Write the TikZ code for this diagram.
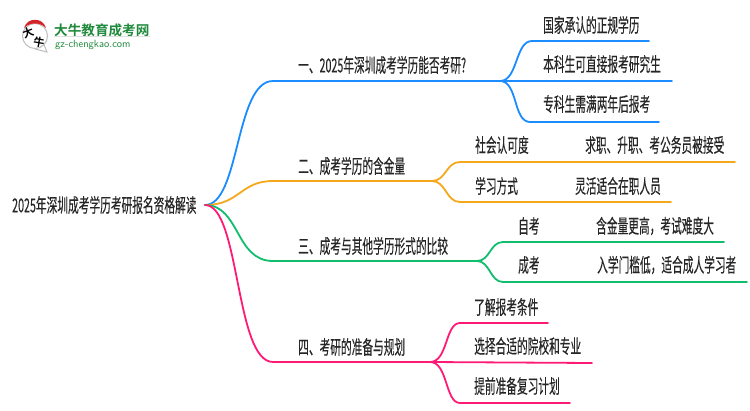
\documentclass[tikz,border=0pt]{standalone}
\usepackage{fontspec}
\usepackage{xcolor}
\newfontfamily\cjk[FakeBold=0.3]{Noto Sans CJK SC}
\newfontfamily\logofont{Noto Sans CJK SC Bold}
\definecolor{blueline}{HTML}{1A8CFF}
\definecolor{orangeline}{HTML}{F5A81C}
\definecolor{greenline}{HTML}{10BE6E}
\definecolor{pinkline}{HTML}{FF1A75}
\definecolor{logogreen}{HTML}{1F8A3C}
\definecolor{logored}{HTML}{D5232A}
\tikzset{
  lbl/.style={anchor=west, inner sep=0pt, text=black!85, yscale=1.8, transform shape, font=\cjk\fontsize{10.7}{11}\selectfont},
  branch/.style={line width=1.8pt, line cap=round},
}

\begin{document}
\begin{tikzpicture}[x=1pt, y=-1pt]
\useasboundingbox[fill=white] (0,0) rectangle (750,410);

% logo
\node[circle, draw=black!25, fill=white, line width=1pt, minimum size=25pt, inner sep=0pt] (bubble) at (35,36) {};
\coordinate (tail) at (47,52);
\draw[black!25, line width=1pt] (bubble.south) -- (tail) -- (bubble.south east);
\fill[logored] (24,28) .. controls (27,17) and (43,17) .. (46,28) .. controls (40,22) and (30,22) .. (24,28);
\node[inner sep=0pt, rotate=20, font=\logofont\fontsize{11}{11}\selectfont] (da) at (28,33) {大};
\node[inner sep=0pt, rotate=-10, font=\logofont\fontsize{11}{11}\selectfont] (niu) at (39,42) {牛};
\node[anchor=west, inner sep=0pt, text=logogreen, font=\logofont\fontsize{13.6}{14}\selectfont] (logoname) at (54,30) {大牛教育成考网};
\node[anchor=west, inner sep=0pt, text=logogreen, font=\sffamily\fontsize{10.5}{11}\selectfont] (logourl) at (55,45) {gz-chengkao.com};
\draw[black!12, line width=.8pt] (logoname.south west) -- (logoname.south east);

% root
\node[lbl] (root) at (12,205) {2025年深圳成考学历考研报名资格解读};
\coordinate (hub) at (205,205);

% first level
\coordinate (b1s) at (273,81);
\coordinate (b1e) at (500,81);
\coordinate (b2s) at (273,181);
\coordinate (b2e) at (432,181);
\coordinate (b3s) at (273,261);
\coordinate (b3e) at (477,261);
\coordinate (b4s) at (273,362);
\coordinate (b4e) at (430,362);

\draw[branch, blueline] (hub) .. controls (240,205) and (235,81) .. (b1s) -- (b1e);
\draw[branch, orangeline] (hub) .. controls (240,205) and (240,181) .. (b2s) -- (b2e);
\draw[branch, greenline] (hub) .. controls (240,205) and (235,261) .. (b3s) -- (b3e);
\draw[branch, pinkline] (hub) .. controls (240,205) and (235,362) .. (b4s) -- (b4e);

\node[lbl] (t1) at (298,65) {一、2025年深圳成考学历能否考研?};
\node[lbl] (t2) at (298,166) {二、成考学历的含金量};
\node[lbl] (t3) at (298,246) {三、成考与其他学历形式的比较};
\node[lbl] (t4) at (298,347) {四、考研的准备与规划};

% blue
\coordinate (a1s) at (532,41);
\coordinate (a1e) at (649,41);
\coordinate (a2e) at (672,81);
\coordinate (a3s) at (530,122);
\coordinate (a3e) at (659,122);
\draw[branch, blueline] (b1e) .. controls (518,81) and (515,41) .. (a1s) -- (a1e);
\draw[branch, blueline] (b1e) -- (a2e);
\draw[branch, blueline] (b1e) .. controls (518,81) and (513,122) .. (a3s) -- (a3e);
\node[lbl] (a1) at (543,25) {国家承认的正规学历};
\node[lbl] (a2) at (543,64) {本科生可直接报考研究生};
\node[lbl] (a3) at (543,104) {专科生需满两年后报考};

% orange
\coordinate (c1s) at (460,162);
\coordinate (c1e) at (735,162);
\coordinate (c2s) at (460,202);
\coordinate (c2e) at (671,202);
\draw[branch, orangeline] (b2e) .. controls (446,181) and (446,162) .. (c1s) -- (c1e);
\draw[branch, orangeline] (b2e) .. controls (446,181) and (446,202) .. (c2s) -- (c2e);
\node[lbl] (c1) at (475,145) {社会认可度};
\node[lbl] (c1r) at (585,145) {求职、升职、考公务员被接受};
\node[lbl] (c2) at (475,186) {学习方式};
\node[lbl] (c2r) at (575,186) {灵活适合在职人员};

% green
\coordinate (d1s) at (503,242);
\coordinate (d1e) at (724,242);
\coordinate (d2s) at (503,282);
\coordinate (d2e) at (747,282);
\draw[branch, greenline] (b3e) .. controls (490,261) and (490,242) .. (d1s) -- (d1e);
\draw[branch, greenline] (b3e) .. controls (490,261) and (490,282) .. (d2s) -- (d2e);
\node[lbl] (d1) at (518,226) {自考};
\node[lbl] (d1r) at (596,226) {含金量更高，考试难度大};
\node[lbl] (d2) at (518,265) {成考};
\node[lbl] (d2r) at (597,265) {入学门槛低，适合成人学习者};

% pink
\coordinate (e1s) at (460,323);
\coordinate (e1e) at (548,323);
\coordinate (e2e) at (592,363);
\coordinate (e3s) at (460,403);
\coordinate (e3e) at (570,403);
\draw[branch, pinkline] (b4e) .. controls (448,362) and (445,323) .. (e1s) -- (e1e);
\draw[branch, pinkline] (b4e) -- (e2e);
\draw[branch, pinkline] (b4e) .. controls (448,362) and (445,403) .. (e3s) -- (e3e);
\node[lbl] (e1) at (474,307) {了解报考条件};
\node[lbl] (e2) at (474,346) {选择合适的院校和专业};
\node[lbl] (e3) at (474,386) {提前准备复习计划};
\end{tikzpicture}
\end{document}
